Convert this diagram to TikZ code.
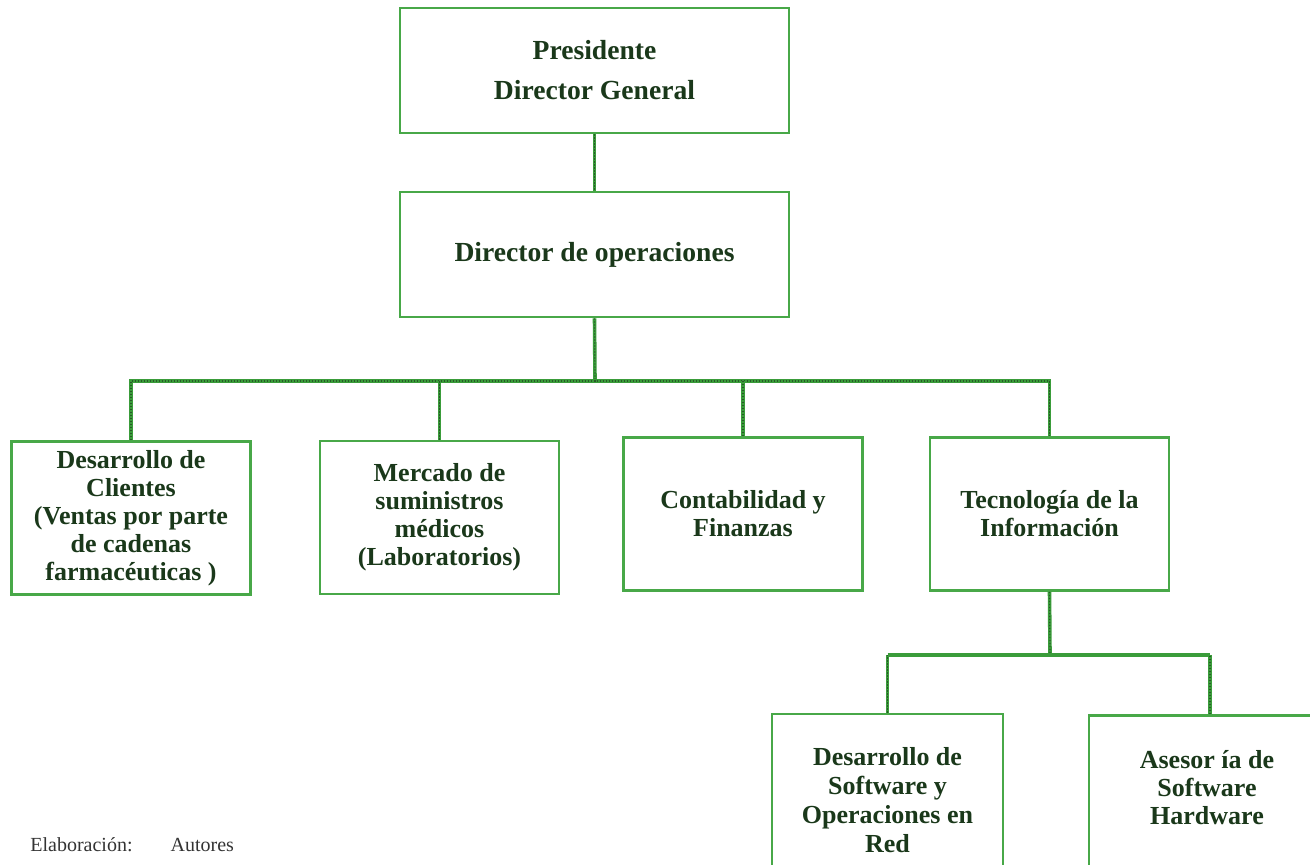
\documentclass[tikz,border=0pt]{standalone}
\usepackage{fontspec}
\setmainfont{Liberation Serif}
\definecolor{boxgreen}{RGB}{72,168,72}
\definecolor{linegreen}{RGB}{58,156,58}
\definecolor{dotgreen}{RGB}{40,90,40}
\definecolor{txtgreen}{RGB}{26,56,26}
\begin{document}
\begin{tikzpicture}[x=0.5pt,y=-0.5pt,
  box/.style={draw=boxgreen, line width=1.4pt, fill=white, inner sep=0pt, align=center,
    text=txtgreen, font=\bfseries\fontsize{13}{14}\selectfont},
  topbox/.style={box, minimum width=194.5pt, minimum height=62.5pt,
    font=\bfseries\fontsize{13.8}{20}\selectfont},
  midbox/.style={box, minimum width=119.5pt, minimum height=76.5pt},
  txt/.style={align=center, inner sep=0pt, text=txtgreen, font=\bfseries\fontsize{13}{14}\selectfont},
  conn/.style={draw=linegreen, line width=1.8pt,
    postaction={draw=dotgreen, line width=0.6pt, dash pattern=on 0.6pt off 0.9pt}},
  connb/.style={draw=linegreen, line width=2.4pt},
  note/.style={anchor=west, inner sep=0pt, text=black!80, font=\fontsize{10}{12}\selectfont}
]
\useasboundingbox (0,0) rectangle (1310,864);
\clip (0,0) rectangle (1310,864);

% boxes
\node[topbox] (pres) at (594.5,70.5) {Presidente\\Director General};
\node[topbox] (dir) at (594.5,254.5) {Director de operaciones};

\node[midbox] (b1) at (131,518) {Desarrollo de\\Clientes\\(Ventas por parte\\de cadenas\\farmacéuticas )};
\node[midbox] (b2) at (439.5,517.5) {Mercado de\\suministros\\médicos\\(Laboratorios)};
\node[midbox] (b3) at (743,514) {Contabilidad y\\Finanzas};
\node[midbox] (b4) at (1049.5,514) {Tecnología de la\\Información};

\node[box, minimum width=115.5pt, minimum height=86pt, font=\bfseries\fontsize{13}{14.5}\selectfont]
  (b5) at (887.5,800) {Desarrollo de\\Software y\\Operaciones en\\Red};
\node[box, anchor=north, minimum width=121pt, minimum height=90pt] (b6) at (1210,714) {};
\node[txt] (t6) at (1207,788) {Asesor ía de\\Software\\Hardware};

% connectors
\coordinate (bus) at (595,381);
\coordinate (bus2) at (1050,655);
\draw[conn] (pres.south) -- (dir.north);
\draw[conn] (dir.south) -- (bus);
\draw[conn] (b1.north) |- (bus) -| (b4.north);
\draw[conn] (b2.north) -- (b2.north |- bus);
\draw[conn] (b3.north) -- (b3.north |- bus);

\draw[conn] (b4.south) -- (bus2);
\draw[connb] (b5.north |- bus2) -- (b6.north |- bus2);
\draw[conn] (b5.north) -- (b5.north |- bus2);
\draw[conn] (b6.north) -- (b6.north |- bus2);

% note
\node[note] (elab) at (30,845) {Elaboración:\hspace{19pt}Autores};
\end{tikzpicture}
\end{document}
